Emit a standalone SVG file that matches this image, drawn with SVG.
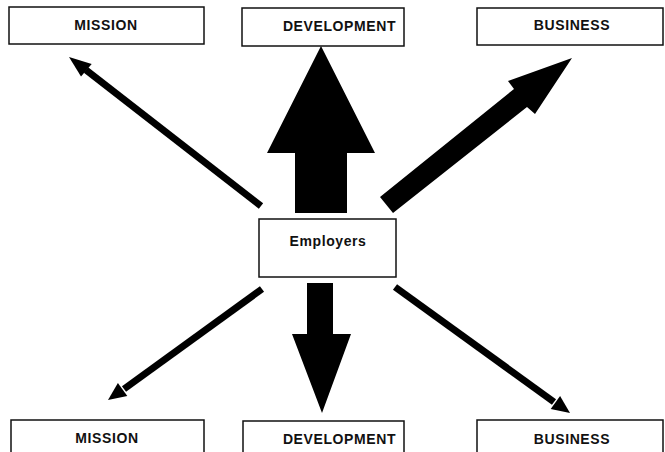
<svg xmlns="http://www.w3.org/2000/svg" width="665" height="452" viewBox="0 0 665 452">
  <style>
    .box { fill: #fff; stroke: #111; stroke-width: 1.5; }
    .label { font-family: "Liberation Sans", Arial, sans-serif; font-size: 14px; font-weight: bold; letter-spacing: 0.6px; fill: #111; text-anchor: middle; }
    .shaft { stroke: #000; stroke-width: 7; fill: none; }
    .solid { fill: #000; stroke: none; }
  </style>

  <rect width="665" height="452" fill="#fff"/>

  <!-- connectors -->
  <g id="connectors">
    <!-- to top MISSION -->
    <line class="shaft" x1="261" y1="206" x2="86" y2="70"/>
    <polygon class="solid" points="69,57 91.7,64 81,76.5"/>
    <!-- to top DEVELOPMENT (wide block arrow) -->
    <polygon class="solid" points="295,213 295,153 267,153 321,46 375,153 347,153 347,213"/>
    <!-- to top BUSINESS (thick arrow) -->
    <polygon class="solid" points="380,197 514,89 508,81 572,58 535,114 527,107 393,213"/>
    <!-- to bottom MISSION -->
    <line class="shaft" x1="262" y1="289" x2="124" y2="389"/>
    <polygon class="solid" points="108,400 117.9,383 127.3,396"/>
    <!-- to bottom DEVELOPMENT -->
    <polygon class="solid" points="307,283 333,283 333,334 351,334 322,413 292,334 307,334"/>
    <!-- to bottom BUSINESS -->
    <line class="shaft" x1="395" y1="287" x2="554" y2="402"/>
    <polygon class="solid" points="570,413 550.7,409 560.1,396"/>
  </g>

  <g id="mission-top">
    <rect class="box" x="9" y="7" width="195" height="37"/>
    <text class="label" x="106" y="30">MISSION</text>
  </g>
  <g id="development-top">
    <rect class="box" x="242" y="8" width="162" height="38"/>
    <text class="label" x="339.5" y="31">DEVELOPMENT</text>
  </g>
  <g id="business-top">
    <rect class="box" x="477" y="8" width="186" height="37"/>
    <text class="label" x="572" y="30">BUSINESS</text>
  </g>

  <g id="employers">
    <rect class="box" x="259" y="219" width="137" height="58"/>
    <text class="label" x="328" y="246">Employers</text>
  </g>

  <g id="mission-bottom">
    <rect class="box" x="11" y="420" width="193" height="40"/>
    <text class="label" x="107" y="443">MISSION</text>
  </g>
  <g id="development-bottom">
    <rect class="box" x="243" y="421" width="161" height="40"/>
    <text class="label" x="339.5" y="444">DEVELOPMENT</text>
  </g>
  <g id="business-bottom">
    <rect class="box" x="477" y="420" width="186" height="40"/>
    <text class="label" x="572" y="444">BUSINESS</text>
  </g>
</svg>
